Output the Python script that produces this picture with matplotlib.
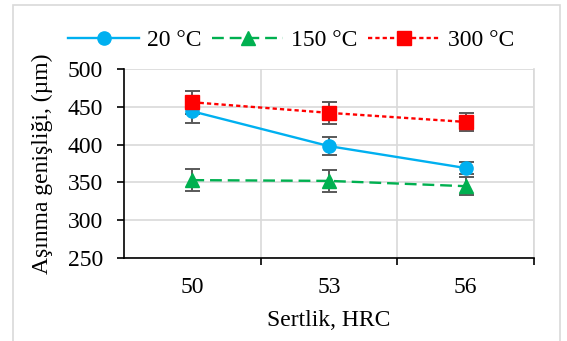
import matplotlib
matplotlib.use("Agg")
import matplotlib.pyplot as plt
from matplotlib.patches import Rectangle

categories = ["50", "53", "56"]
series_labels = ["20 °C", "150 °C", "300 °C"]
vals_20 = [444, 398, 369]
err_20 = [15, 12, 8]
vals_150 = [353, 352, 345]
err_150 = [15, 15, 12]
vals_300 = [456, 442, 430]
err_300 = [15, 15, 12]
yticks = [250, 300, 350, 400, 450, 500]

plt.rcParams['font.family'] = ['Liberation Serif', 'DejaVu Serif']
FS = 17

fig = plt.figure(figsize=(5.67, 3.41), dpi=100)
fig.patches.append(Rectangle((13/567, -0.1), (560-13)/567, 1.1 - 5/341, transform=fig.transFigure,
                             fill=False, edgecolor='#d9d9d9', linewidth=1.2))
ax = fig.add_axes([124/567, 1-258/341, (534-124)/567, (258-69)/341])

x = list(range(len(categories)))
styles = [
    (vals_20, err_20, '#00B0F0', 'o', None, 9.5),
    (vals_150, err_150, '#00B050', '^', (5, 2.5), 10),
    (vals_300, err_300, '#FF0000', 's', (1.8, 1.3), 9.5),
]
handles = []
for (v, e, c, m, d, ms), lab in zip(styles, series_labels):
    ax.errorbar(x, v, yerr=e, fmt='none', ecolor='#595959', elinewidth=1.4,
                capsize=5.4, capthick=1.4, zorder=2)
    ln, = ax.plot(x, v, color=c, marker=m, markersize=ms, linewidth=1.7,
                  label=lab, zorder=3)
    if d is not None:
        ln.set_dashes(d)
    handles.append(ln)

ax.set_xlim(-0.5, 2.5)
ax.set_ylim(250, 500)
ax.set_yticks(yticks)
ax.set_xticks(x)
ax.set_xticklabels(categories)
ax.set_xticks([0.5, 1.5, 2.5], minor=True)
ax.tick_params(axis='x', which='major', length=0, labelsize=FS, pad=14)
ax.tick_params(axis='x', which='minor', length=5, width=1.2, direction='out')
ax.tick_params(axis='y', labelsize=FS, length=5, width=1.2, direction='out', pad=10)
ax.grid(axis='y', color='#d9d9d9', linewidth=1.2)
ax.grid(axis='x', which='minor', color='#d9d9d9', linewidth=1.2)
ax.set_axisbelow(True)
for s in ['top', 'right']:
    ax.spines[s].set_visible(False)
ax.plot([1, 1], [0, 1], transform=ax.transAxes, color='#d9d9d9', linewidth=1.2, clip_on=False, zorder=0)
for s in ['left', 'bottom']:
    ax.spines[s].set_linewidth(1.2)
ax.set_xlabel("Sertlik, HRC", fontsize=FS, labelpad=8)
ax.set_ylabel("Aşınma genişliği, (µm)", fontsize=FS, labelpad=11)

fig.legend(handles=handles, labels=series_labels, loc='center', bbox_to_anchor=(291/567, 1-40/341),
           ncol=3, frameon=False, fontsize=FS, handlelength=3.0, columnspacing=0.45,
           handletextpad=0.35, borderpad=0, borderaxespad=0)

fig.savefig("out.png", dpi=100)
